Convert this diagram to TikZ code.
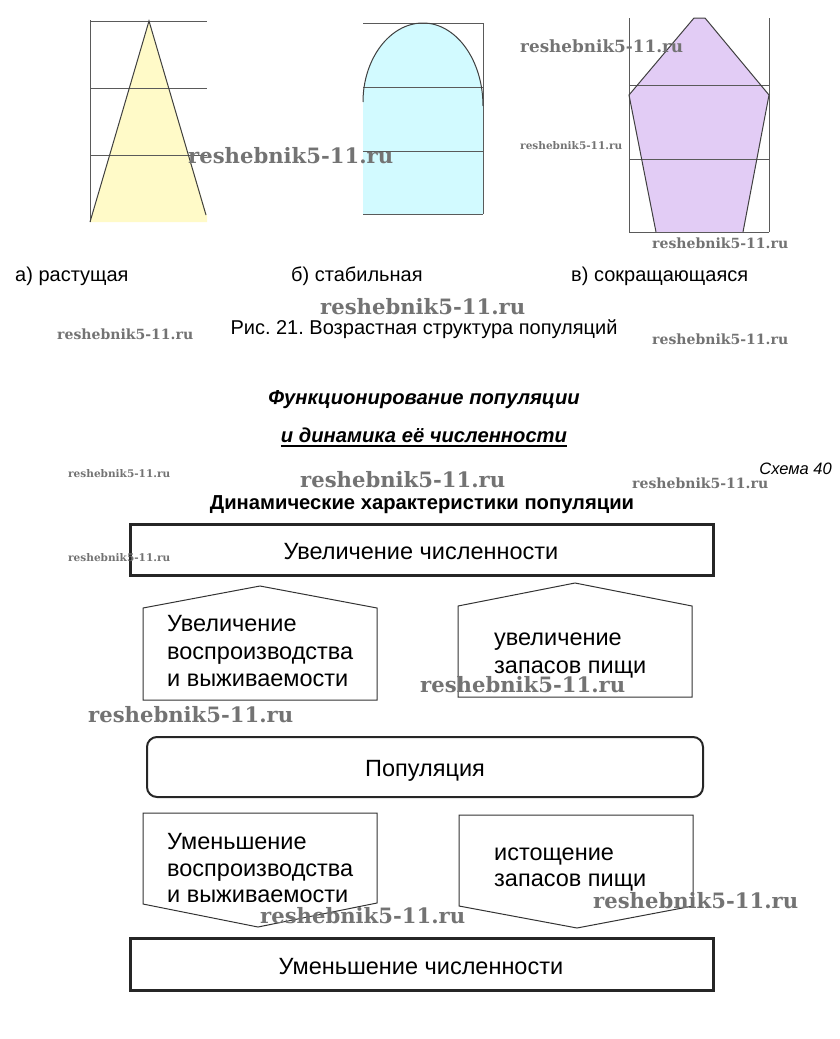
\documentclass[tikz,border=0pt]{standalone}
\usepackage{fontspec}
\usepackage{graphicx}
\setmainfont{Liberation Sans}
\newfontfamily\wmfont{DejaVu Serif}
\definecolor{pyel}{RGB}{255,250,200}
\definecolor{pcya}{RGB}{210,250,255}
\definecolor{ppur}{RGB}{226,204,245}
\definecolor{wmgray}{RGB}{115,115,115}
\definecolor{gridc}{RGB}{90,90,90}
\newcommand\wmk[1]{\resizebox{#1}{!}{\wmfont\bfseries reshebnik5-11.ru}}
\tikzset{
  txt/.style={inner sep=0pt, anchor=base west, font=\fontsize{23.5}{27}\selectfont},
  ctxt/.style={txt, anchor=base},
  lbl/.style={inner sep=0pt, anchor=base west, font=\fontsize{20}{24}\selectfont},
  wm/.style={inner sep=0pt, anchor=base west, text=wmgray},
  gridline/.style={draw=gridc, line width=0.8pt},
  outl/.style={draw=black!75, line width=1pt},
  bigbox/.style={draw=black!85, line width=3pt},
  penta/.style={draw=black!80, line width=1pt},
}
\frenchspacing
\begin{document}
\begin{tikzpicture}[x=1pt,y=-1pt]
\useasboundingbox (0,0) rectangle (840,1039);
% --- figure a
\fill[pyel] (149,21) -- (207,216) -- (207,222) -- (90,222) -- cycle;
\draw[gridline] (90,20) -- (90,222);
\foreach \yy in {21,88,155} \draw[gridline] (90,\yy) -- (207,\yy);
\draw[outl] (90,222) -- (149,21) -- (206,215);
% --- figure b
\fill[pcya] (363,214) -- (363,102) .. controls (363,58.8) and (389.9,23) .. (423,23)
  .. controls (456.1,23) and (483,60) .. (483,106) -- (483,214) -- cycle;
\foreach \yy in {23,87,151,214} \draw[gridline] (363,\yy) -- (483,\yy);
\draw[gridline] (483,23) -- (483,214);
\draw[outl] (363,102) .. controls (363,58.8) and (389.9,23) .. (423,23)
  .. controls (456.1,23) and (483,60) .. (483,106);
% --- figure c
\fill[ppur] (694,18) -- (705,18) -- (769,95) -- (743,232) -- (656,232) -- (629,95) -- cycle;
\draw[gridline] (629,18) -- (629,232);
\draw[gridline] (769,18) -- (769,232);
\foreach \yy in {85,159,232} \draw[gridline] (629,\yy) -- (769,\yy);
\draw[outl] (656,232) -- (629,95) -- (694,18) -- (705,18) -- (769,95) -- (743,232);
% --- labels
\node[lbl] (la) at (15,281) {а) растущая};
\node[lbl] (lb) at (291,281) {б) стабильная};
\node[lbl] (lc) at (571,281) {в) сокращающаяся};
\node[lbl, anchor=base] (cap) at (424,334) {Рис. 21. Возрастная структура популяций};
% --- headers
\node[inner sep=0pt, anchor=base, font=\fontsize{20.2}{24}\selectfont\bfseries\itshape] (h1) at (424,404) {Функционирование популяции};
\node[inner sep=0pt, anchor=base, font=\fontsize{20.2}{24}\selectfont\bfseries\itshape] (h2) at (424,442) {и динамика её численности};
\draw[line width=1.6pt] ([yshift=-4pt]h2.base west) -- ([yshift=-4pt]h2.base east);
\node[inner sep=0pt, anchor=base east, font=\fontsize{16.5}{20}\selectfont\itshape] (sch) at (832,474) {Схема 40};
\node[inner sep=0pt, anchor=base, font=\fontsize{20.2}{24}\selectfont\bfseries] (h3) at (422,509) {Динамические характеристики популяции};
% --- scheme boxes
\draw[bigbox] (130,524) rectangle (713,575);
\node[ctxt] (t1) at (421,559) {Увеличение численности};
\draw[penta] (143,700) -- (143,608) -- (260,586) -- (377,608) -- (377,700) -- cycle;
\draw[penta] (458,697) -- (458,606) -- (575,583) -- (692,606) -- (692,697) -- cycle;
\node[txt] (p1a) at (167,631) {Увеличение};
\node[txt] (p1b) at (167,659) {воспроизводства};
\node[txt] (p1c) at (167,686) {и выживаемости};
\node[txt] (p2a) at (494,645) {увеличение};
\node[txt] (p2b) at (494,673) {запасов пищи};
\draw[draw=black!85, line width=2pt, rounded corners=10pt] (147,737) rectangle (703,797);
\node[ctxt] (pop) at (425,776) {Популяция};
\draw[penta] (143,813) -- (377,813) -- (377,903) -- (258,927) -- (143,904) -- cycle;
\draw[penta] (459,815) -- (693,815) -- (693,906) -- (577,928) -- (459,906) -- cycle;
\node[txt] (p3a) at (167,849) {Уменьшение};
\node[txt] (p3b) at (167,876) {воспроизводства};
\node[txt] (p3c) at (167,902) {и выживаемости};
\node[txt] (p4a) at (494,860) {истощение};
\node[txt] (p4b) at (494,886) {запасов пищи};
\draw[bigbox] (130,938) rectangle (713,990);
\node[ctxt] (t2) at (421,974) {Уменьшение численности};
% --- watermarks
\node[wm] (w1) at (188,163) {\wmk{205pt}};
\node[wm] (w2) at (520,52) {\wmk{163pt}};
\node[wm] (w3) at (520,149) {\wmk{102pt}};
\node[wm] (w4) at (652,248) {\wmk{136pt}};
\node[wm] (w5) at (320,314) {\wmk{205pt}};
\node[wm] (w6) at (57,339) {\wmk{136pt}};
\node[wm] (w7) at (652,344) {\wmk{136pt}};
\node[wm] (w8) at (68,477) {\wmk{102pt}};
\node[wm] (w9) at (300,487) {\wmk{205pt}};
\node[wm] (w10) at (632,488) {\wmk{136pt}};
\node[wm] (w11) at (68,561) {\wmk{102pt}};
\node[wm] (w12) at (420,692) {\wmk{205pt}};
\node[wm] (w13) at (88,722) {\wmk{205pt}};
\node[wm] (w14) at (260,923) {\wmk{205pt}};
\node[wm] (w15) at (593,908) {\wmk{205pt}};
\end{tikzpicture}
\end{document}
